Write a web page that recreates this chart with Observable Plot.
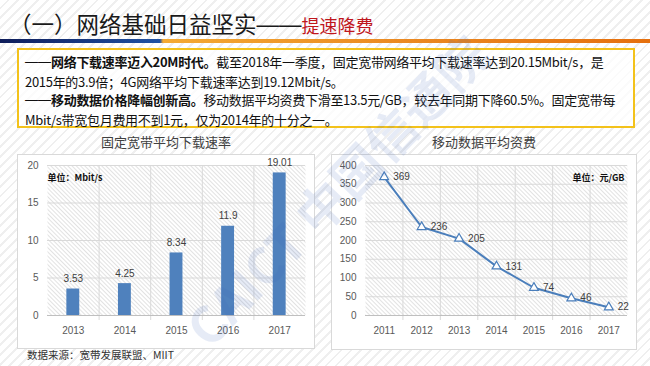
<!DOCTYPE html>
<html>
<head>
<meta charset="utf-8">
<script src="https://cdn.jsdelivr.net/npm/d3@7"></script>
<script src="https://cdn.jsdelivr.net/npm/@observablehq/plot@0.6"></script>
<style>
  html, body { margin: 0; padding: 0; }
  #slide {
    position: relative; width: 650px; height: 366px; overflow: hidden;
    font-family: "Noto Sans CJK SC", "Noto Sans", sans-serif;
    background: repeating-linear-gradient(135deg, #ffffff 0px, #ffffff 5px, #efefef 5px, #efefef 7px);
  }
  .abs { position: absolute; }
  .dash { font-family: "Liberation Sans", Arial, sans-serif; letter-spacing: 0; position: relative; top: -0.06em; }
  #title { left: 9px; top: 11px; font-size: 22.5px; line-height: 24px; color: #1a1a1a; white-space: nowrap; }
  #title .red { color: #c0161c; font-size: 18px; }
  #bar { left: 0; top: 39px; width: 650px; height: 4px;
    background: linear-gradient(to right, #0f1d5a 0px, #1f52a3 160px, #f4aa33 163px, #eb8a22 400px, #e5700f 650px); }
  #box { left: 17px; top: 48px; width: 618px; height: 80px; box-sizing: border-box;
    border: 2px solid #f3c21b; background: rgba(255,255,255,0.75);
    padding: 3px 0 0 6px; font-size: 13px; line-height: 18.5px; color: #111; white-space: nowrap; letter-spacing: -0.3px; }
  #box b { font-weight: bold; }
  .ctitle { top: 133px; font-size: 13px; line-height: 18px; color: #404040; text-align: center; }
  .frame { background: #fff; border: 1px solid #d9d9d9; box-sizing: border-box; }
  #source { left: 27px; top: 347px; font-size: 10.5px; line-height: 16px; color: #333; white-space: nowrap; }
  #wm { left: 110px; top: 160px; width: 450px; text-align: center; font-size: 50px; line-height: 58px;
    font-weight: bold; color: rgba(60,100,185,0.13); transform: rotate(-46deg); transform-origin: center;
    white-space: nowrap; pointer-events: none; }
</style>
</head>
<body>
<svg width="0" height="0" style="position:absolute">
  <defs>
    <pattern id="hatch" patternUnits="userSpaceOnUse" width="3" height="3" patternTransform="rotate(-45)">
      <rect width="3" height="3" fill="#ffffff"></rect>
      <rect width="1" height="3" fill="#e2e2e2"></rect>
    </pattern>
  </defs>
</svg>
<div id="slide">
  <div id="title" class="abs">（一）网络基础日益坚实<span class="dash">——</span><span class="red">提速降费</span></div>
  <div id="bar" class="abs"></div>
  <div id="box" class="abs"><span class="dash">——</span><b>网络下载速率迈入20M时代。</b>截至2018年一季度，固定宽带网络平均下载速率达到20.15Mbit/s，是<br>2015年的3.9倍；4G网络平均下载速率达到19.12Mbit/s。<br><span class="dash">——</span><b>移动数据价格降幅创新高。</b>移动数据平均资费下滑至13.5元/GB，较去年同期下降60.5%。固定宽带每<br>Mbit/s带宽包月费用不到1元，仅为2014年的十分之一。</div>
  <div class="abs ctitle" style="left:17px;width:298px;">固定宽带平均下载速率</div>
  <div class="abs ctitle" style="left:331px;width:306px;">移动数据平均资费</div>
  <div id="left" class="abs frame" style="left:17px;top:154px;width:298px;height:195px;"></div>
  <div id="right" class="abs frame" style="left:331px;top:154px;width:306px;height:196px;"></div>
  <div id="source" class="abs">数据来源：宽带发展联盟、MIIT</div>
  <div id="wm" class="abs">CAICT 中国信通院</div>
</div>
<script>
// ---- data ----
const speedYears = [2013, 2014, 2015, 2016, 2017];
const speedValues = [3.53, 4.25, 8.34, 11.9, 19.01];
const speedTicks = [0, 5, 10, 15, 20];
const speedUnit = "单位：Mbit/s";

const tariffYears = [2011, 2012, 2013, 2014, 2015, 2016, 2017];
const tariffValues = [369, 236, 205, 131, 74, 46, 22];
const tariffTicks = [0, 50, 100, 150, 200, 250, 300, 350, 400];
const tariffUnit = "单位：元/GB";

const speedData = speedYears.map((year, i) => ({year, value: speedValues[i]}));
const tariffData = tariffYears.map((year, i) => ({year, value: tariffValues[i]}));
const between = (ys) => ys.slice(1).map(y => y - 0.5);

const font = "'Liberation Sans', Arial, sans-serif";
const blue = "#4f81bd";
const grid = "#d9d9d9";

const left = Plot.plot({
  width: 296, height: 193,
  marginLeft: 29, marginRight: 9, marginTop: 10, marginBottom: 33,
  style: {background: "transparent", fontFamily: font, fontSize: "10px", color: "#595959", overflow: "visible"},
  x: {domain: [speedYears[0] - 0.5, speedYears[speedYears.length - 1] + 0.5], label: null},
  y: {domain: [speedTicks[0], speedTicks[speedTicks.length - 1]], label: null},
  marks: [
    Plot.frame({fill: "url(#hatch)", stroke: null}),
    Plot.gridY(speedTicks, {stroke: grid, strokeOpacity: 1}),
    Plot.ruleX(between(speedYears), {stroke: grid, insetBottom: -5}),
    Plot.ruleY([0], {stroke: "#bfbfbf"}),
    Plot.axisX({ticks: speedYears, tickFormat: d => String(d), tickSize: 0, tickPadding: 11, fontSize: 10, label: null}),
    Plot.axisY({ticks: speedTicks, tickSize: 0, tickPadding: 9, fontSize: 10, label: null}),
    Plot.rectY(speedData, {x1: d => d.year - 0.125, x2: d => d.year + 0.125, y1: 0, y2: "value", fill: blue}),
    Plot.text(speedData, {x: "year", y: "value", text: d => String(d.value), dy: -10, fill: "#404040", fontSize: 10}),
    Plot.text([speedUnit], {frameAnchor: "top-left", dy: 9, textAnchor: "start", fontWeight: "bold", fill: "#111", fontSize: 9, fontFamily: "'Noto Sans CJK SC', sans-serif"})
  ]
});
document.getElementById("left").appendChild(left);

const right = Plot.plot({
  width: 304, height: 194,
  marginLeft: 33, marginRight: 9, marginTop: 10, marginBottom: 34,
  style: {background: "transparent", fontFamily: font, fontSize: "10px", color: "#595959", overflow: "visible"},
  x: {domain: [tariffYears[0] - 0.5, tariffYears[tariffYears.length - 1] + 0.5], label: null},
  y: {domain: [tariffTicks[0], tariffTicks[tariffTicks.length - 1]], label: null},
  marks: [
    Plot.frame({fill: "url(#hatch)", stroke: null}),
    Plot.gridY(tariffTicks, {stroke: grid, strokeOpacity: 1}),
    Plot.ruleX(between(tariffYears), {stroke: grid, insetBottom: -5}),
    Plot.ruleY([0], {stroke: "#bfbfbf"}),
    Plot.axisX({ticks: tariffYears, tickFormat: d => String(d), tickSize: 0, tickPadding: 11, fontSize: 10, label: null}),
    Plot.axisY({ticks: tariffTicks, tickSize: 0, tickPadding: 9, fontSize: 10, label: null}),
    Plot.line(tariffData, {x: "year", y: "value", stroke: "#4a7ebb", strokeWidth: 2}),
    Plot.dot(tariffData, {x: "year", y: "value", symbol: "triangle", r: 3.3, fill: "white", stroke: "#4a7ebb", strokeWidth: 1.2}),
    Plot.text(tariffData, {x: "year", y: "value", text: d => String(d.value), dx: 9, textAnchor: "start", fill: "#404040", fontSize: 10}),
    Plot.text([tariffUnit], {frameAnchor: "top-right", dx: -3, dy: 9, textAnchor: "end", fontWeight: "bold", fill: "#111", fontSize: 9, fontFamily: "'Noto Sans CJK SC', sans-serif"})
  ]
});
document.getElementById("right").appendChild(right);
</script>
</body>
</html>
